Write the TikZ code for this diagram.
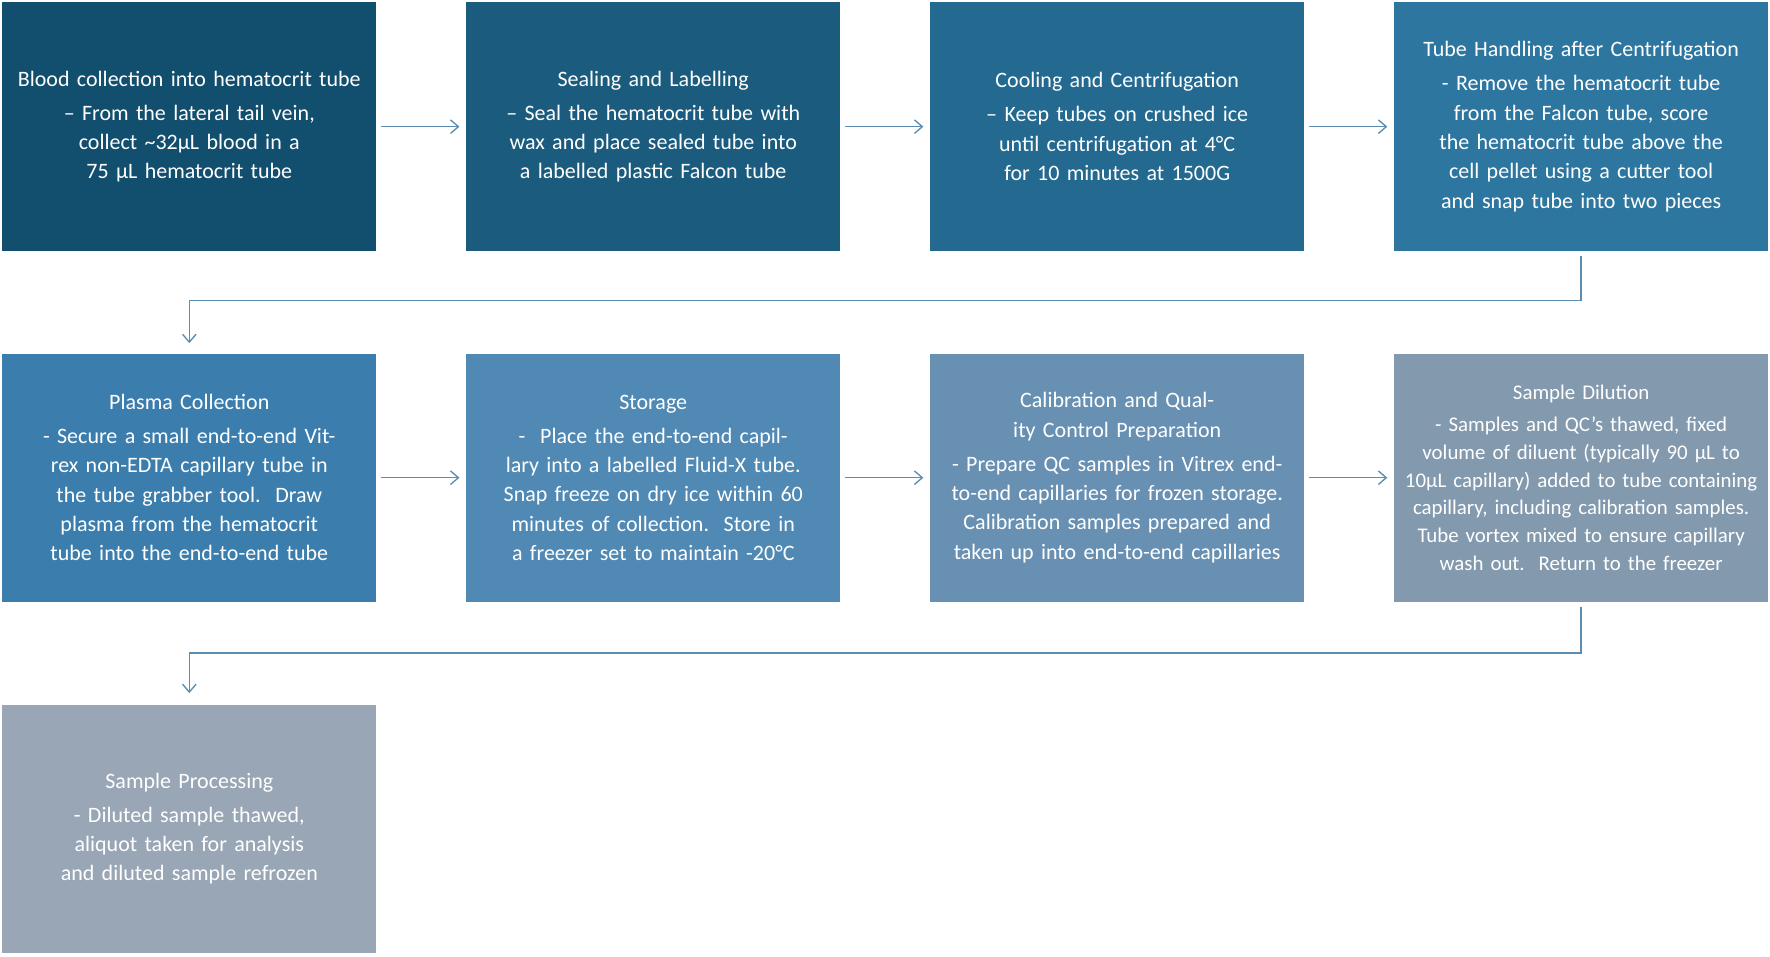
\documentclass[tikz,border=0pt]{standalone}
\usepackage{fontspec}
\setmainfont{Carlito}
\usetikzlibrary{arrows.meta}
\definecolor{c1}{HTML}{124E6D}
\definecolor{c2}{HTML}{1B5C7E}
\definecolor{c3}{HTML}{236990}
\definecolor{c4}{HTML}{2C76A0}
\definecolor{c5}{HTML}{3B7EAD}
\definecolor{c6}{HTML}{4F89B4}
\definecolor{c7}{HTML}{6890B2}
\definecolor{c8}{HTML}{8399AE}
\definecolor{c9}{HTML}{98A6B5}
\definecolor{ac}{HTML}{5B8DB0}
\begin{document}
\begin{tikzpicture}[x=1pt,y=-1pt,
  box/.style={minimum width=331pt,minimum height=220pt,text width=315pt,align=center,text=white,inner sep=0pt,anchor=north west,font=\fontsize{19.5}{26}\selectfont},
  arr/.style={draw=ac,line width=1.2pt,-{Straight Barb[length=7pt,width=12pt]}}]
\useasboundingbox (0,0) rectangle (1568,847);
\node[box,fill=c1] (b1) at (2,2) {Blood collection into hematocrit tube\\[4pt]– From the lateral tail vein, collect \textasciitilde32µL blood in a 75 µL hematocrit tube};
\node[box,fill=c2] (b2) at (413,2) {Sealing and Labelling\\[4pt]– Seal the hematocrit tube with wax and place sealed tube into a labelled plastic Falcon tube};
\node[box,fill=c3] (b3) at (824,2) {Cooling and Centrifugation\\[4pt]– Keep tubes on crushed ice until centrifugation at 4°C for 10 minutes at 1500G};
\node[box,fill=c4] (b4) at (1235,2) {Tube Handling after Centrifugation\\[4pt]- Remove the hematocrit tube from the Falcon tube, score the hematocrit tube above the cell pellet using a cutter tool and snap tube into two pieces};
\node[box,fill=c5] (b5) at (2,313) {Plasma Collection\\[4pt]- Secure a small end-to-end Vitrex non-EDTA capillary tube in the tube grabber tool.\ \ Draw plasma from the hematocrit tube into the end-to-end tube};
\node[box,fill=c6] (b6) at (413,313) {Storage\\[4pt]-\ \ Place the end-to-end capillary into a labelled Fluid-X tube.\ \ Snap freeze on dry ice within 60 minutes of collection.\ \ Store in a freezer set to maintain -20°C};
\node[box,fill=c7] (b7) at (824,313) {Calibration and Quality Control Preparation\\[4pt]- Prepare QC samples in Vitrex end-to-end capillaries for frozen storage.\ \ Calibration samples prepared and taken up into end-to-end capillaries};
\node[box,fill=c8,font=\fontsize{18.5}{24.5}\selectfont] (b8) at (1235,313) {Sample Dilution\\[4pt]- Samples and QC’s thawed, fixed volume of diluent (typically 90 µL to 10µL capillary) added to tube containing capillary, including calibration samples.\ \ Tube vortex mixed to ensure capillary wash out.\ \ Return to the freezer};
\node[box,fill=c9] (b9) at (2,624) {Sample Processing\\[4pt]- Diluted sample thawed, aliquot taken for analysis and diluted sample refrozen};
\draw[arr] ([xshift=4pt]b1.east) -- ([xshift=-6pt]b2.west);
\draw[arr] ([xshift=4pt]b2.east) -- ([xshift=-6pt]b3.west);
\draw[arr] ([xshift=4pt]b3.east) -- ([xshift=-6pt]b4.west);
\draw[arr] ([xshift=4pt]b5.east) -- ([xshift=-6pt]b6.west);
\draw[arr] ([xshift=4pt]b6.east) -- ([xshift=-6pt]b7.west);
\draw[arr] ([xshift=4pt]b7.east) -- ([xshift=-6pt]b8.west);
\draw[arr] ([yshift=-4pt]b4.south) -- ++(0,40) -| ([yshift=9pt]b5.north);
\draw[arr] ([yshift=-4pt]b8.south) -- ++(0,41) -| ([yshift=10pt]b9.north);
\end{tikzpicture}
\end{document}
